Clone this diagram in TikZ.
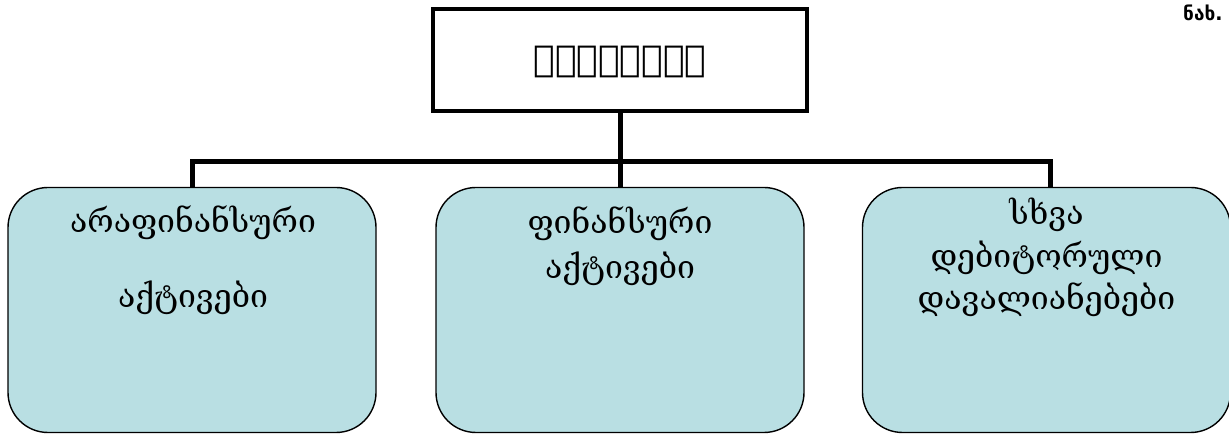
\documentclass[tikz,border=0pt]{standalone}
\usepackage{fontspec}
\setmainfont{DejaVu Serif}
\newfontfamily\geosans{DejaVu Sans}
\definecolor{boxfill}{RGB}{185,223,227}
\begin{document}
\begin{tikzpicture}[x=1pt,y=-1pt,
  titlebox/.style={draw, line width=4pt, minimum width=374pt, minimum height=102pt, inner sep=0pt},
  itembox/.style={draw, line width=1.4pt, fill=boxfill, rounded corners=40pt, minimum width=368pt, minimum height=245pt, inner sep=0pt},
  itemtext/.style={anchor=base, inner sep=0pt, font=\fontsize{32}{36}\selectfont},
  bus/.style={line width=5pt}]
\useasboundingbox (0,0) rectangle (1229,435);

% top heading
\node[titlebox] (title) at (620,60) {};
\node[anchor=base, inner sep=0pt, font=\geosans\bfseries\fontsize{36}{40}\selectfont] (titletext) at (620,72) {ᲐᲥᲢᲘᲕᲔᲑᲘ};
\node[anchor=base west, inner sep=0pt, font=\geosans\bfseries\fontsize{19}{22}\selectfont] (figno) at (1183,21) {ნახ.};

% three categories
\node[itembox] (b1) at (192,310) {};
\node[itembox] (b2) at (620,310) {};
\node[itembox] (b3) at (1046.5,310) {};

\node[itemtext] (b1a) at (193,233) {არაფინანსური};
\node[itemtext] (b1b) at (193,308) {აქტივები};
\node[itemtext] (b2a) at (620,234) {ფინანსური};
\node[itemtext] (b2b) at (620,279) {აქტივები};
\node[itemtext] (b3a) at (1046.5,225) {სხვა};
\node[itemtext] (b3b) at (1046.5,268) {დებიტორული};
\node[itemtext] (b3c) at (1046.5,310) {დავალიანებები};

% connectors
\draw[bus] (b1.north) -- (192,162) -- (1050,162) -- (1050,187);
\draw[bus] (title.south) -- (b2.north);
\end{tikzpicture}
\end{document}
